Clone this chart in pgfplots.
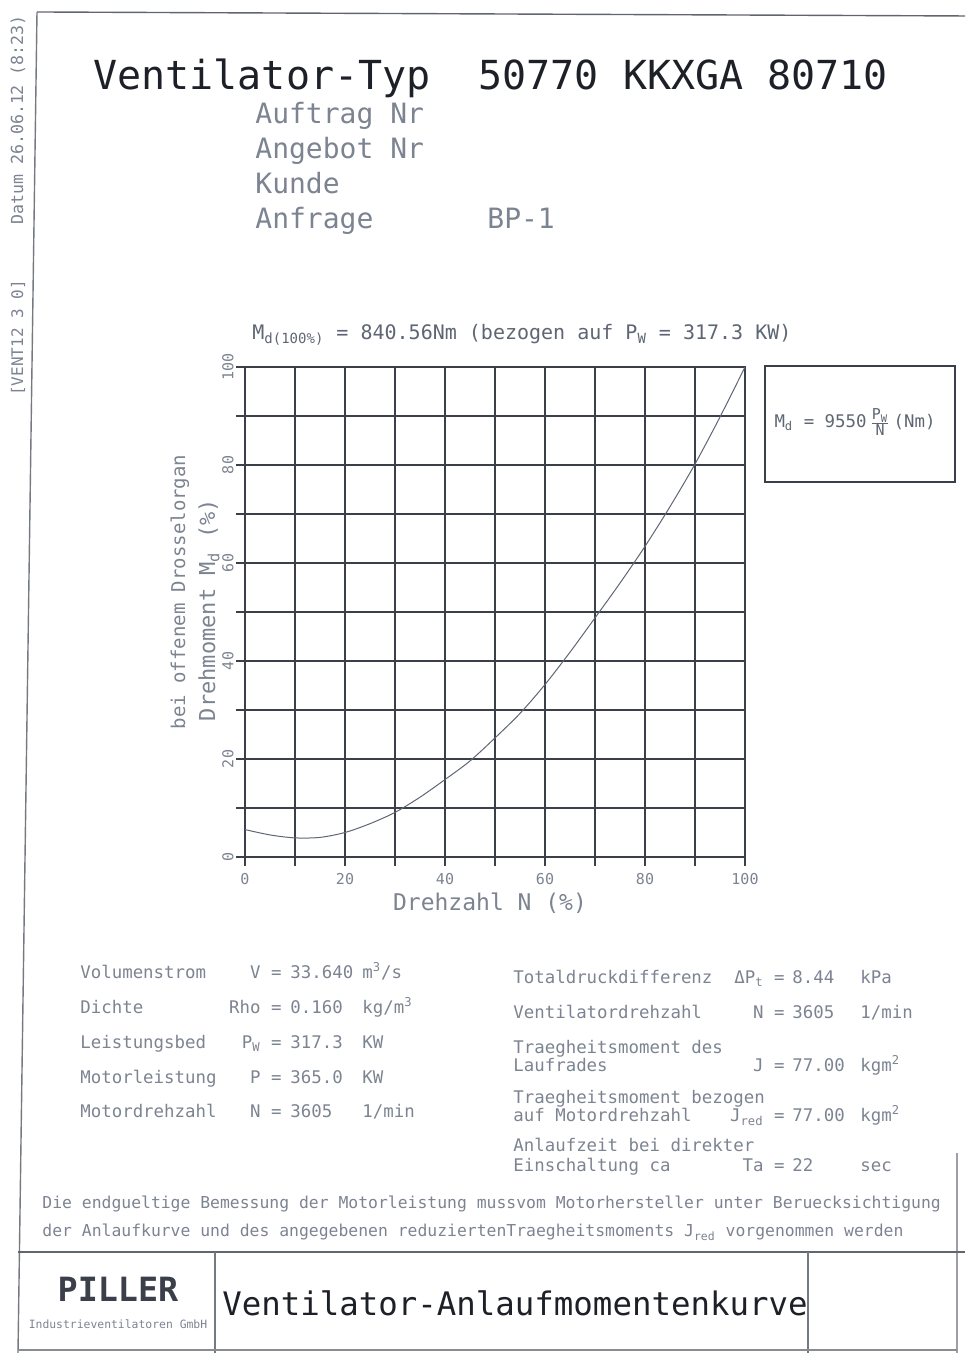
\documentclass[border=0pt]{standalone}
\usepackage{fontspec}
\setmainfont{DejaVu Sans Mono}
\usepackage{pgfplots}
\pgfplotsset{compat=1.18}
\definecolor{ink}{HTML}{1E2028}
\definecolor{faint}{HTML}{7C8391}
\definecolor{mid}{HTML}{5E6573}
\definecolor{gridc}{HTML}{3A3F4A}
\newcommand{\fs}[1]{\fontsize{#1}{#1}\selectfont}
\begin{document}
\begin{tikzpicture}
\begin{scope}[x=0.5pt,y=0.5pt]
\useasboundingbox (0,0) rectangle (965,1353);
% frame
\draw[gridc!80, line width=0.7pt] (37,1341) -- (965,1337);
\draw[gridc!70, line width=0.7pt] (37,1341) -- (18,0);
\draw[gridc!50, line width=0.6pt] (957,0) -- (957,200);
\draw[gridc!80, line width=0.8pt] (18,101) -- (965,101);
\draw[gridc!70, line width=0.6pt] (215,101) -- (215,0);
\draw[gridc!70, line width=0.6pt] (808,101) -- (808,0);
\draw[gridc!60, line width=0.6pt] (18,3) -- (957,3);
% margin text
\node[rotate=90, faint, font=\fs{8}] at (18,1015) {[VENT12 3 0]};
\node[rotate=90, faint, font=\fs{8.3}] at (18,1233) {Datum 26.06.12 (8:23)};
% header
\node[anchor=base west, ink, font=\fs{20}, inner sep=0pt] at (93,1263) {Ventilator-Typ\hspace*{12pt} 50770 KKXGA 80710};
\node[anchor=base west, faint, font=\fs{14}, inner sep=0pt] at (255,1229) {Auftrag Nr};
\node[anchor=base west, faint, font=\fs{14}, inner sep=0pt] at (255,1194) {Angebot Nr};
\node[anchor=base west, faint, font=\fs{14}, inner sep=0pt] at (255,1159) {Kunde};
\node[anchor=base west, faint, font=\fs{14}, inner sep=0pt] at (255,1124) {Anfrage};
\node[anchor=base west, faint, font=\fs{14}, inner sep=0pt] at (487,1124) {BP-1};
% plot header
\node[anchor=base west, mid, font=\fs{10}, inner sep=0pt] at (252,1013) {M\textsubscript{d(100\%)} = 840.56Nm (bezogen auf P\textsubscript{W} = 317.3 KW)};
% formula box
\draw[gridc, line width=0.6pt] (765,987) rectangle (955,871);
\node[mid, font=\fs{8.7}] at (855,931) {M\textsubscript{d} = 9550\,$\frac{\mbox{\fs{7.5}P\textsubscript{W}}}{\mbox{\fs{7.5}N}}$\,(Nm)};
% second y label line
\node[rotate=90, faint, font=\fs{9.5}] at (180,761) {bei offenem Drosselorgan};
% left table
\begin{scope}[every node/.style={faint, font=\fs{8.7}, inner sep=0pt}]
\node[anchor=base west] at (80,374) {Volumenstrom};
\node[anchor=base west] at (80,339) {Dichte};
\node[anchor=base west] at (80,304) {Leistungsbed};
\node[anchor=base west] at (80,269) {Motorleistung};
\node[anchor=base west] at (80,235) {Motordrehzahl};
\node[anchor=base east] at (282,374) {V =};
\node[anchor=base east] at (282,339) {Rho =};
\node[anchor=base east] at (282,304) {P\textsubscript{W} =};
\node[anchor=base east] at (282,269) {P =};
\node[anchor=base east] at (282,235) {N =};
\node[anchor=base west] at (290,374) {33.640};
\node[anchor=base west] at (290,339) {0.160};
\node[anchor=base west] at (290,304) {317.3};
\node[anchor=base west] at (290,269) {365.0};
\node[anchor=base west] at (290,235) {3605};
\node[anchor=base west] at (362,374) {m\textsuperscript{3}/s};
\node[anchor=base west] at (362,339) {kg/m\textsuperscript{3}};
\node[anchor=base west] at (362,304) {KW};
\node[anchor=base west] at (362,269) {KW};
\node[anchor=base west] at (362,235) {1/min};
% right table
\node[anchor=base west] at (513,369) {Totaldruckdifferenz};
\node[anchor=base west] at (513,334) {Ventilatordrehzahl};
\node[anchor=base west] at (513,299) {Traegheitsmoment des};
\node[anchor=base west] at (513,281) {Laufrades};
\node[anchor=base west] at (513,249) {Traegheitsmoment bezogen};
\node[anchor=base west] at (513,231) {auf Motordrehzahl};
\node[anchor=base west] at (513,201) {Anlaufzeit bei direkter};
\node[anchor=base west] at (513,181) {Einschaltung ca};
\node[anchor=base east] at (785,369) {ΔP\textsubscript{t} =};
\node[anchor=base east] at (785,334) {N =};
\node[anchor=base east] at (785,281) {J =};
\node[anchor=base east] at (785,231) {J\textsubscript{red} =};
\node[anchor=base east] at (785,181) {Ta =};
\node[anchor=base west] at (792,369) {8.44};
\node[anchor=base west] at (792,334) {3605};
\node[anchor=base west] at (792,281) {77.00};
\node[anchor=base west] at (792,231) {77.00};
\node[anchor=base west] at (792,181) {22};
\node[anchor=base west] at (860,369) {kPa};
\node[anchor=base west] at (860,334) {1/min};
\node[anchor=base west] at (860,281) {kgm\textsuperscript{2}};
\node[anchor=base west] at (860,231) {kgm\textsuperscript{2}};
\node[anchor=base west] at (860,181) {sec};
% note
\node[anchor=base west, font=\fs{8.2}] at (42,144) {Die endgueltige Bemessung der Motorleistung mussvom Motorhersteller unter Beruecksichtigung};
\node[anchor=base west, font=\fs{8.2}] at (42,116) {der Anlaufkurve und des angegebenen reduziertenTraegheitsmoments J\textsubscript{red} vorgenommen werden};
\end{scope}
% footer
\node[anchor=base, gridc, font=\fs{16.7}\bfseries, inner sep=0pt] at (118,51) {PILLER};
\node[anchor=base, faint, font=\fs{5.7}, inner sep=0pt] at (118,25) {Industrieventilatoren GmbH};
\node[anchor=base west, ink, font=\fs{16.2}, inner sep=0pt] at (222,37) {Ventilator-Anlaufmomentenkurve};
\end{scope}
\begin{axis}[
  at={(122.5pt,248pt)}, anchor=south west,
  scale only axis, width=250pt, height=245pt,
  xmin=0, xmax=100, ymin=0, ymax=100,
  xtick={0,10,...,100}, ytick={0,10,...,100},
  xticklabels={0,,20,,40,,60,,80,,100},
  yticklabels={0,,20,,40,,60,,80,,100},
  /pgf/number format/assume math mode=true,
  grid=major,
  major grid style={gridc, line width=0.75pt},
  axis line style={gridc, line width=0.75pt},
  tick align=outside, tick pos=left,
  major tick length=4.5pt,
  tick style={gridc, line width=0.75pt},
  xticklabel style={faint, font=\fs{7.5}},
  yticklabel style={faint, font=\fs{7.5}, rotate=90, anchor=south, inner sep=1pt},
  xlabel={Drehzahl N (\%)},
  ylabel={Drehmoment M\textsubscript{d} (\%)},
  xlabel style={faint, font=\fs{11.5}, at={(axis description cs:0.49,-0.094)}, anchor=center},
  ylabel style={faint, font=\fs{11}, at={(axis description cs:-0.072,0.504)}, anchor=center},
]
\addplot[smooth, mid, line width=0.5pt] coordinates {
(0,5.6) (5,4.5) (10,3.9) (15,4.0) (20,5.0) (25,6.8) (30,9.1) (35,12.2)
(40,15.8) (45,19.6) (50,24.3) (55,29.3) (60,35.2) (65,41.8) (70,48.8)
(75,55.9) (80,63.4) (85,71.5) (90,80.2) (95,89.8) (100,100)
};
\end{axis}
\end{tikzpicture}
\end{document}
